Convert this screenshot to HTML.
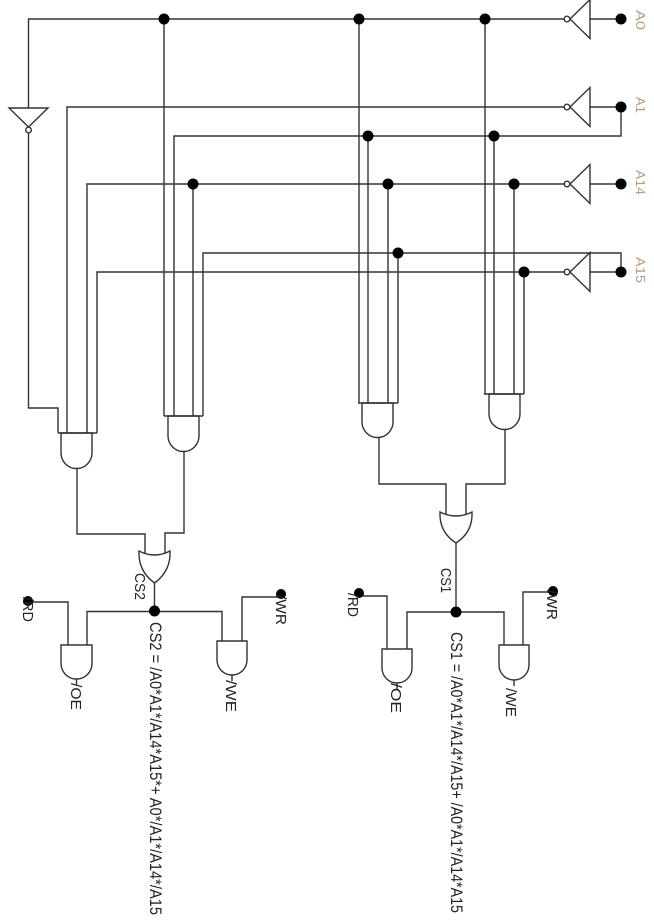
<!DOCTYPE html>
<html><head><meta charset="utf-8"><style>
html,body{margin:0;padding:0;background:#fff;}
svg{display:block;}
</style></head><body>
<svg width="654" height="924" viewBox="0 0 654 924" xmlns="http://www.w3.org/2000/svg">
<g fill="none" stroke="#333" stroke-width="1.4">
<!-- A0 -->
<path d="M28.5,108 V19 H564 M590,19 H621"/>
<polygon points="9,108 48,108 28.5,127" fill="#fff"/>
<circle cx="28.5" cy="130" r="2.8" fill="#fff"/>
<path d="M28.5,133 V408 H58 V433"/>
<!-- A1 -->
<path d="M67,433 V107 H564 M590,107 H621 V136 H174 V416"/>
<!-- A14 -->
<path d="M87,433 V184 H564 M590,184 H621"/>
<!-- A15 -->
<path d="M97,433 V272 H564 M590,272 H621 V253 H203 V416"/>
<!-- verticals -->
<path d="M164,19 V416 M193,184 V416 M359,19 V403 M368,136 V403 M388,184 V403 M398,253 V403 M485,19 V394 M494,136 V394 M514,184 V394 M524,272 V394"/>
<!-- inverters -->
<polygon points="590,-0.5 590,38.5 570,19" fill="#fff"/>
<circle cx="567" cy="19" r="2.8" fill="#fff"/>
<polygon points="590,87.5 590,126.5 570,107" fill="#fff"/>
<circle cx="567" cy="107" r="2.8" fill="#fff"/>
<polygon points="590,164.5 590,203.5 570,184" fill="#fff"/>
<circle cx="567" cy="184" r="2.8" fill="#fff"/>
<polygon points="590,252.5 590,291.5 570,272" fill="#fff"/>
<circle cx="567" cy="272" r="2.8" fill="#fff"/>
<!-- AND gates top -->
<path d="M58,433 H97"/>
<path d="M61,433 H92 V453 A15.5,15.5 0 0 1 61,453 Z"/>
<path d="M164,416 H203"/>
<path d="M168,416 H199 V436 A15.5,15.5 0 0 1 168,436 Z"/>
<path d="M358,403 H398"/>
<path d="M362,403 H393 V422 A15.5,15.5 0 0 1 362,422 Z"/>
<path d="M484,394 H524"/>
<path d="M489,394 H520 V414 A15.5,15.5 0 0 1 489,414 Z"/>
<!-- outputs to OR -->
<path d="M77,468.5 V534 H145 V554"/>
<path d="M184,451 V533 H165 V554"/>
<path d="M379,437 V484 H446 V515"/>
<path d="M505,429 V484 H466 V515"/>
<!-- OR gates -->
<path d="M139,551 Q154.5,559 170,551 Q171,571 154.5,583 Q138,571 139,551 Z" fill="#fff"/>
<path d="M440,512 Q456,520 472,512 Q473,532 456,543 Q439,532 440,512 Z" fill="#fff"/>
<path d="M154.5,583 V611 M456,543 V612"/>
<!-- bottom CS2 -->
<path d="M28,602 H68 V645"/>
<path d="M87,645 V611.5 H222 V641"/>
<path d="M242,641 V597 H281"/>
<path d="M61,645 H92 V663.5 A15.5,15.5 0 0 1 61,663.5 Z"/>
<path d="M217,641 H247 V660 A15,15 0 0 1 217,660 Z"/>
<path d="M76.5,679 V685 M232,675 V681"/>
<!-- bottom CS1 -->
<path d="M387,649 V596 H359"/>
<path d="M407,649 V612 H504 V645"/>
<path d="M523,645 V592 H553"/>
<path d="M382,649 H412 V668 A15,15 0 0 1 382,668 Z"/>
<path d="M499,645 H529 V665 A15,15 0 0 1 499,665 Z"/>
<path d="M397,683 V689 M514,680 V686"/>
</g>
<!-- dots -->
<g fill="#000">
<circle cx="164" cy="19" r="5.5"/>
<circle cx="359" cy="19" r="5.5"/>
<circle cx="485" cy="19" r="5.5"/>
<circle cx="621" cy="19" r="5.5"/>
<circle cx="621" cy="107" r="5.5"/>
<circle cx="368" cy="136" r="5.5"/>
<circle cx="494" cy="136" r="5.5"/>
<circle cx="193" cy="184" r="5.5"/>
<circle cx="388" cy="184" r="5.5"/>
<circle cx="514" cy="184" r="5.5"/>
<circle cx="621" cy="184" r="5.5"/>
<circle cx="398" cy="253" r="5.5"/>
<circle cx="524" cy="272" r="5.5"/>
<circle cx="621" cy="272" r="5.5"/>
<circle cx="154.5" cy="611" r="5.5"/>
<circle cx="456" cy="612" r="5.5"/>
<circle cx="28" cy="601" r="5"/>
<circle cx="281" cy="594" r="5"/>
<circle cx="359" cy="593" r="5"/>
<circle cx="553" cy="591" r="5"/>
</g>
<!-- address labels -->
<g font-family="Liberation Sans, sans-serif" font-size="13" fill="#b89c84">
<text transform="translate(636,10) rotate(90)" textLength="20" lengthAdjust="spacingAndGlyphs">A0</text>
<text transform="translate(636,97) rotate(90)" textLength="16" lengthAdjust="spacingAndGlyphs">A1</text>
<text transform="translate(636,170) rotate(90)" textLength="25" lengthAdjust="spacingAndGlyphs">A14</text>
<text transform="translate(636,257) rotate(90)" textLength="26" lengthAdjust="spacingAndGlyphs">A15</text>
</g>
<!-- other labels -->
<g font-family="Liberation Sans, sans-serif" font-size="15" fill="#222">
<text transform="translate(135,573) rotate(90)" textLength="27" lengthAdjust="spacingAndGlyphs">CS2</text>
<text transform="translate(441,568) rotate(90)" textLength="25" lengthAdjust="spacingAndGlyphs">CS1</text>
<text transform="translate(23,597) rotate(90)" textLength="25" lengthAdjust="spacingAndGlyphs">/RD</text>
<text transform="translate(71,683) rotate(90)" textLength="27" lengthAdjust="spacingAndGlyphs">/OE</text>
<text transform="translate(226,680) rotate(90)" textLength="32" lengthAdjust="spacingAndGlyphs">/WE</text>
<text transform="translate(276,595) rotate(90)" textLength="30" lengthAdjust="spacingAndGlyphs">/WR</text>
<text transform="translate(348,593) rotate(90)" textLength="24" lengthAdjust="spacingAndGlyphs">/RD</text>
<text transform="translate(391,683) rotate(90)" textLength="30" lengthAdjust="spacingAndGlyphs">/OE</text>
<text transform="translate(506,688) rotate(90)" textLength="29" lengthAdjust="spacingAndGlyphs">/WE</text>
<text transform="translate(547,590) rotate(90)" textLength="30" lengthAdjust="spacingAndGlyphs">/WR</text>
</g>
<g font-family="Liberation Sans, sans-serif" font-size="16.5" fill="#222">
<text transform="translate(150,622) rotate(90)" textLength="293" lengthAdjust="spacingAndGlyphs">CS2 = /A0*A1*/A14*A15*+ A0*/A1*/A14*/A15</text>
<text transform="translate(451,632) rotate(90)" textLength="281" lengthAdjust="spacingAndGlyphs">CS1 = /A0*A1*/A14*/A15+ /A0*A1*/A14*A15</text>
</g>
</svg>
</body></html>
